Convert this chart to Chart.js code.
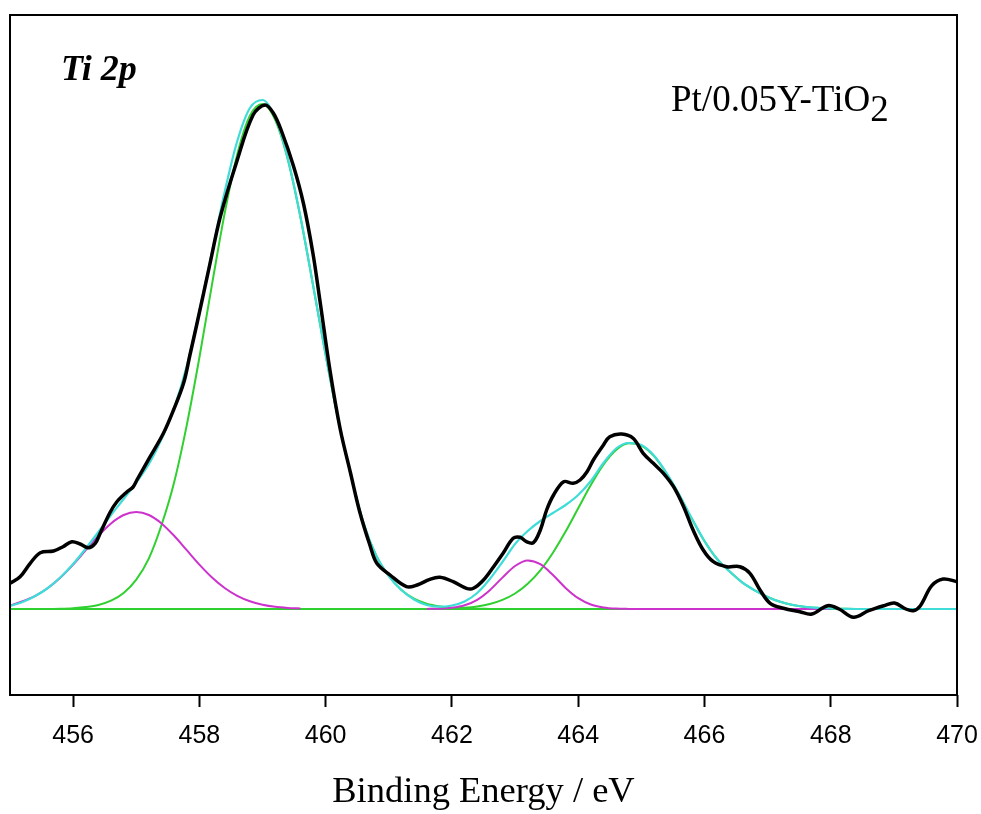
<!DOCTYPE html>
<html>
<head>
<meta charset="utf-8">
<script src="https://cdn.jsdelivr.net/npm/chart.js@4/dist/chart.umd.min.js"></script>
<style>
  html, body { margin: 0; padding: 0; background: #ffffff; }
  #wrap { width: 981px; height: 814px; }
</style>
</head>
<body>
<div id="wrap"><canvas id="c" width="981" height="814"></canvas></div>
<script>
// ---------- data ----------
const panelLabel = "Ti 2p";
const sampleLabel = "Pt/0.05Y-TiO";
const sampleSub = "2";
const xAxisTitle = "Binding Energy / eV";
const xTicks = [456, 458, 460, 462, 464, 466, 468, 470];

// measured spectrum (black)
const obsEnergy = [455.00,455.16,455.32,455.48,455.69,455.84,455.98,456.11,456.24,456.35,456.43,456.58,456.69,456.85,456.95,457.01,457.22,457.43,457.59,457.75,457.85,457.96,458.17,458.33,458.59,458.85,459.04,459.17,459.30,459.49,459.65,459.80,459.91,460.07,460.23,460.39,460.54,460.70,460.81,461.02,461.28,461.45,461.65,461.81,462.02,462.23,462.34,462.50,462.66,462.81,462.97,463.08,463.18,463.29,463.40,463.50,463.61,463.77,463.92,464.03,464.14,464.24,464.40,464.50,464.69,464.87,465.03,465.19,465.35,465.51,465.67,465.82,465.98,466.14,466.35,466.56,466.72,466.88,467.04,467.25,467.51,467.70,467.95,468.13,468.36,468.60,468.84,469.01,469.19,469.31,469.42,469.60,469.78,470.00];
const obsIntensity = [25.7,32.3,45.7,56.3,58.0,62.3,67.3,65.0,61.3,65.7,76.0,96.0,107.0,117.0,122.0,129.0,152.3,175.7,199.0,226.0,254.0,285.0,346.0,392.0,447.0,494.0,504.0,496.0,478.0,443.0,405.0,355.0,308.0,238.0,180.0,137.0,97.0,64.0,45.7,34.0,22.3,24.0,29.7,31.7,27.3,20.7,20.7,29.0,42.3,55.7,70.7,71.7,67.3,66.3,79.0,99.0,114.0,127.3,125.7,129.0,137.3,149.0,164.0,172.3,175.0,170.7,155.7,145.7,135.7,122.3,102.3,79.0,59.0,47.3,42.3,42.3,35.7,19.0,5.7,0.7,-2.7,-5.0,3.3,0.0,-8.3,-1.7,3.3,6.0,0.0,-1.7,3.3,23.3,30.0,27.3];

// energy grid of the fitted curves
const fitEnergy = [455.0,455.2,455.4,455.6,455.8,456.0,456.2,456.4,456.6,456.8,457.0,457.2,457.4,457.6,457.8,458.0,458.2,458.4,458.6,458.8,459.0,459.2,459.4,459.6,459.8,460.0,460.2,460.4,460.6,460.8,461.0,461.2,461.4,461.6,461.8,462.0,462.2,462.4,462.6,462.8,463.0,463.2,463.4,463.6,463.8,464.0,464.2,464.4,464.6,464.8,465.0,465.2,465.4,465.6,465.8,466.0,466.2,466.4,466.6,466.8,467.0,467.2,467.4,467.6,467.8,468.0,468.2,468.4,468.6,468.8,469.0,469.2,469.4,469.6,469.8,470.0];

// envelope (cyan)
const fitSum = [3.0,7.0,13.0,21.0,31.8,45.0,60.5,77.0,94.0,110.0,126.5,145.0,170.0,201.0,243.0,298.0,357.0,417.0,468.0,501.0,509.0,491.5,450.5,392.5,324.0,254.0,189.0,133.5,86.0,53.5,33.0,19.0,9.5,4.0,2.3,3.5,7.5,16.0,30.0,47.0,65.0,78.0,88.0,96.0,104.0,114.0,128.0,146.0,160.5,166.0,164.0,153.5,136.0,114.5,90.5,68.0,50.0,37.5,26.5,18.5,12.0,7.2,4.0,2.1,1.1,0.5,0.2,0,0,0,0,0,0,0,0,0];

// Ti 2p3/2 main component (green)
const fitTiMain = [0,0,0.1,0.1,0.3,0.8,1.9,4.0,8.3,16.0,29.4,50.7,84.0,126.8,183.9,251.5,324.7,395.6,454.8,493.3,505.0,489.1,449.5,391.8,323.9,254.0,189.0,133.3,86.0,53.5,33.0,19.0,10.4,5.3,2.6,1.2,0.5,0.2,0.1,0,0,null,null,null,null,null,null,null,null,null,null,null,null,null,null,null,null,null,null,null,null,null,null,null,null,null,null,null,null,null,null,null,null,null,null,null];

// Ti 2p1/2 main component (green)
const fitTiSecond = [null,null,null,null,null,null,null,null,null,null,null,null,null,null,null,null,null,null,null,null,null,null,null,null,null,null,null,null,null,null,0,0,0,0.1,0.3,0.6,1.3,2.6,5.0,9.1,15.5,25.2,38.7,56.3,77.4,100.7,123.9,144.3,159.0,165.7,163.4,152.8,135.3,113.5,90.2,67.9,50.0,37.5,26.5,18.5,12.0,7.2,4.0,2.1,1.1,0.5,0.2,0,0,0,0,0,0,0,0,0];

// low-energy shoulder components (magenta)
const fitShoulderA = [3.5,7.7,13.1,21.0,31.5,44.4,58.8,73.2,85.6,94.0,97.0,94.0,85.6,73.2,58.8,44.4,31.5,21.0,13.1,7.7,4.3,2.2,1.1,0.5,null,null,null,null,null,null,null,null,null,null,null,null,null,null,null,null,null,null,null,null,null,null,null,null,null,null,null,null,null,null,null,null,null,null,null,null,null,null,null,null,null,null,null,null,null,null,null,null,null,null,null,null];
const fitShoulderB = [null,null,null,null,null,null,null,null,null,null,null,null,null,null,null,null,null,null,null,null,null,null,null,null,null,null,null,null,null,null,null,null,null,0.1,0.3,1.2,3.7,9.2,18.8,31.4,43.0,48.5,44.8,34.0,21.1,10.8,4.5,1.6,0.4,0.1,0,0,0,0,0,0,0,0,0,0,0,0,0,0,0,0,null,null,null,null,null,null,null,null,null,null];

// background (green)
const bgEnergy = [455, 470];
const bgValue = [0, 0];

// ---------- styles ----------
const C_BLACK = '#000000';
const C_CYAN = '#3fdcd8';
const C_GREEN = '#2fd02f';
const C_MAGENTA = '#cc33cc';

function pts(xs, ys) { return xs.map((x, i) => ({ x: x, y: ys[i] })); }

const frameAndLabels = {
  id: 'frameAndLabels',
  afterDraw(chart) {
    const { ctx, chartArea: a } = chart;
    ctx.save();
    ctx.strokeStyle = '#000';
    ctx.lineWidth = 2;
    ctx.strokeRect(a.left, a.top, a.right - a.left, a.bottom - a.top);
    ctx.fillStyle = '#000';
    ctx.textBaseline = 'alphabetic';
    ctx.textAlign = 'left';
    ctx.font = 'italic bold 36px "Liberation Serif", "Times New Roman", serif';
    ctx.fillText(panelLabel, a.left + 51, a.top + 65);
    ctx.font = '37px "Liberation Serif", "Times New Roman", serif';
    const sx = a.left + 661, sy = a.top + 96;
    ctx.fillText(sampleLabel, sx, sy);
    const w = ctx.measureText(sampleLabel).width;
    ctx.fillText(sampleSub, sx + w, sy + 10);
    ctx.restore();
  }
};

new Chart(document.getElementById('c'), {
  type: 'line',
  data: {
    datasets: [
      { label: 'measured', data: pts(obsEnergy, obsIntensity), borderColor: C_BLACK, borderWidth: 3.5, tension: 0.35, pointRadius: 0, fill: false },
      { label: 'envelope', data: pts(fitEnergy, fitSum), borderColor: C_CYAN, borderWidth: 2.2, cubicInterpolationMode: 'monotone', pointRadius: 0, fill: false },
      { label: 'shoulder A', data: pts(fitEnergy, fitShoulderA), borderColor: C_MAGENTA, borderWidth: 2, cubicInterpolationMode: 'monotone', pointRadius: 0, fill: false, spanGaps: false },
      { label: 'shoulder B', data: pts(fitEnergy, fitShoulderB), borderColor: C_MAGENTA, borderWidth: 2, cubicInterpolationMode: 'monotone', pointRadius: 0, fill: false, spanGaps: false },
      { label: 'main', data: pts(fitEnergy, fitTiMain), borderColor: C_GREEN, borderWidth: 2, cubicInterpolationMode: 'monotone', pointRadius: 0, fill: false, spanGaps: false },
      { label: 'second', data: pts(fitEnergy, fitTiSecond), borderColor: C_GREEN, borderWidth: 2, cubicInterpolationMode: 'monotone', pointRadius: 0, fill: false, spanGaps: false },
      { label: 'background', data: pts(bgEnergy, bgValue), borderColor: C_GREEN, borderWidth: 2, pointRadius: 0, fill: false }
    ]
  },
  options: {
    responsive: false,
    animation: false,
    events: [],
    layout: { padding: { left: 10, right: 24, top: 15, bottom: 0 } },
    plugins: { legend: { display: false }, tooltip: { enabled: false } },
    scales: {
      x: {
        type: 'linear',
        min: 455,
        max: 470,
        afterBuildTicks: (scale) => { scale.ticks = xTicks.map(v => ({ value: v })); },
        afterFit: (scale) => { scale.height = 119; scale.paddingLeft = 0; scale.paddingRight = 0; },
        grid: { display: true, drawOnChartArea: false, drawTicks: true, tickLength: 12, tickWidth: 2, tickColor: '#000' },
        border: { display: false },
        ticks: { color: '#000', padding: 14, maxRotation: 0, autoSkip: false, font: { family: '"Liberation Sans", Arial, sans-serif', size: 25 } },
        title: { display: true, text: xAxisTitle, color: '#000', padding: { top: 0, bottom: 0 }, font: { family: '"Liberation Serif", "Times New Roman", serif', size: 36.5 } }
      },
      y: {
        display: false,
        min: -86,
        max: 594
      }
    }
  },
  plugins: [frameAndLabels]
});
</script>
</body>
</html>
